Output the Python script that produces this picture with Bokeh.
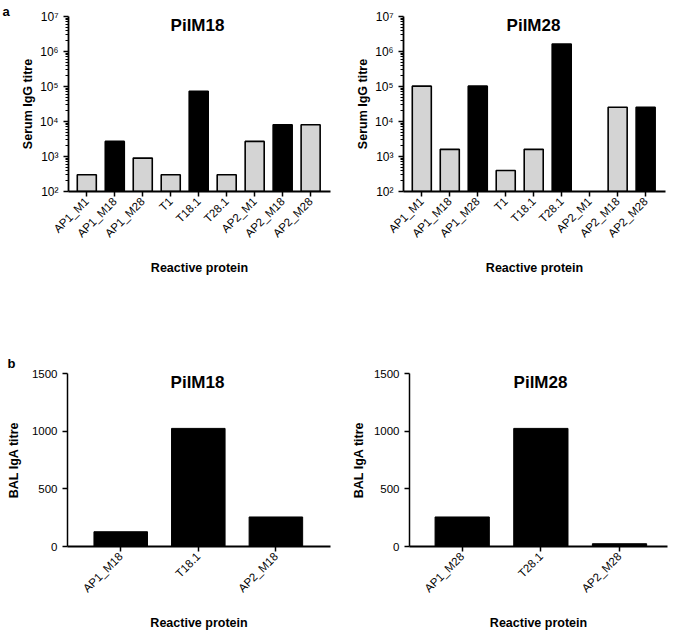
import math
from bokeh.plotting import figure
from bokeh.layouts import column, row
from bokeh.models import Range1d, FixedTicker, Label, ColumnDataSource
from bokeh.embed import file_html
from bokeh.resources import INLINE

# ---- data ----
igg_cats = ["AP1_M1", "AP1_M18", "AP1_M28", "T1", "T18.1", "T28.1", "AP2_M1", "AP2_M18", "AP2_M28"]
igg_pilm18 = [300, 2700, 900, 300, 72900, 300, 2700, 8100, 8100]
igg_pilm28 = [102400, 1600, 102400, 400, 1600, 1638400, float("nan"), 25600, 25600]
iga_cats_m18 = ["AP1_M18", "T18.1", "AP2_M18"]
iga_pilm18 = [128, 1024, 256]
iga_cats_m28 = ["AP1_M28", "T28.1", "AP2_M28"]
iga_pilm28 = [256, 1024, 24]
log_ticks = [10 ** k for k in range(2, 8)]
sup = {2: "²", 3: "³", 4: "⁴", 5: "⁵", 6: "⁶", 7: "⁷"}
lin_ticks = [0, 500, 1000, 1500]

FONT = "Liberation Sans"
GREY = "#d4d4d4"


def base_fig(w, h, bl, br, bt, bb, xr, yr, log=False):
    kw = dict(width=w, height=h, x_range=Range1d(*xr), y_range=Range1d(*yr),
              output_backend="svg", toolbar_location=None,
              min_border_left=bl, min_border_right=br, min_border_top=bt, min_border_bottom=bb)
    if log:
        kw["y_axis_type"] = "log"
    p = figure(**kw)
    p.outline_line_color = None
    p.grid.visible = False
    p.background_fill_color = "white"
    p.border_fill_color = "white"
    for ax in (p.xaxis[0], p.yaxis[0]):
        ax.axis_line_color = "black"
        ax.axis_line_width = 1.8
        ax.major_tick_line_color = "black"
        ax.major_tick_line_width = 1.5
        ax.major_tick_in = 0
        ax.major_tick_out = 5
        ax.minor_tick_in = 0
        ax.minor_tick_out = 3
        ax.minor_tick_line_color = "black"
        ax.major_label_text_font = FONT
        ax.major_label_text_font_size = "11.5px"
        ax.major_label_text_color = "black"
        ax.axis_label_text_font = FONT
        ax.axis_label_text_font_size = "12.5px"
        ax.axis_label_text_font_style = "bold"
        ax.axis_label_text_color = "black"
    p.xaxis.minor_tick_line_color = None
    p.xaxis.major_label_orientation = math.pi / 4
    p.xaxis.major_label_standoff = 3
    p.xaxis.axis_label = "Reactive protein"
    p.xaxis.axis_label_standoff = 14
    p.yaxis.major_label_standoff = 5
    p.yaxis.axis_label_standoff = 8
    return p


def igg_panel(values, bl, br, hl):
    fw = 262
    p = base_fig(bl + fw + br, 320, bl, br, 16, 129, (-0.654, 8.71), (1e2, 1e7), log=True)
    xs = list(range(len(igg_cats)))
    colors = ["black" if hl in c else GREY for c in igg_cats]
    src = ColumnDataSource(dict(x=xs, top=values, color=colors))
    p.vbar(x="x", top="top", bottom=1e2, width=0.68, source=src, fill_color="color",
           line_color="black", line_width=1.6)
    p.xaxis.ticker = FixedTicker(ticks=xs)
    p.xaxis.major_label_overrides = {i: c for i, c in enumerate(igg_cats)}
    p.yaxis.ticker = FixedTicker(ticks=log_ticks,
                                 minor_ticks=[m * 10 ** k for k in range(2, 7) for m in range(2, 10)])
    p.yaxis.major_label_overrides = {10 ** k: "10" + sup[k] for k in range(2, 8)}
    p.yaxis.major_label_text_font_size = "12px"
    p.yaxis.axis_label = "Serum IgG titre"
    p.yaxis.axis_label_standoff = 2
    return p


def iga_panel(cats, values, bl, fw, br, xr, lab_standoff):
    p = base_fig(bl + fw + br, 312, bl, br, 53, 84, xr, (0, 1500))
    xs = list(range(len(cats)))
    src = ColumnDataSource(dict(x=xs, top=values))
    p.vbar(x="x", top="top", bottom=0, width=0.69, source=src, fill_color="black",
           line_color="black", line_width=1)
    p.xaxis.ticker = FixedTicker(ticks=xs)
    p.xaxis.major_label_overrides = {i: c for i, c in enumerate(cats)}
    p.yaxis.ticker = FixedTicker(ticks=lin_ticks)
    p.yaxis.axis_label = "BAL IgA titre"
    p.yaxis.axis_label_standoff = lab_standoff
    p.yaxis.axis_line_width = 1.5
    return p


p1 = igg_panel(igg_pilm18, 68, 13, "18")
p2 = igg_panel(igg_pilm28, 60, 10, "28")
p3 = iga_panel(iga_cats_m18, iga_pilm18, 67, 263, 13, (-0.686, 2.704), 8)
p4 = iga_panel(iga_cats_m28, iga_pilm28, 66, 258, 8, (-0.670, 2.61), 5)

# transparent overlay (pulled up over the four panels) carrying the free texts
ov = figure(width=675, height=632, x_range=Range1d(0, 675), y_range=Range1d(632, 0),
            output_backend="svg", toolbar_location=None, title=None,
            x_axis_location=None, y_axis_location=None,
            min_border=0, min_border_left=0, min_border_right=0, min_border_top=0, min_border_bottom=0)
ov.grid.visible = False
ov.outline_line_color = None
ov.background_fill_alpha = 0
ov.border_fill_alpha = 0
ov.stylesheets = [":host { margin-top: -632px !important; position: relative; z-index: 5; }"]

texts = [("a", 2, 10.5, "13px", "left"), ("b", 7, 362.5, "13px", "left"),
         ("PilM18", 197, 25, "17px", "center"), ("PilM28", 533, 25, "17px", "center"),
         ("PilM18", 197, 381.5, "17px", "center"), ("PilM28", 540, 381.5, "17px", "center")]
for t, x, y, fs, al in texts:
    ov.add_layout(Label(x=x, y=y, text=t, text_align=al, text_baseline="alphabetic",
                        text_font=FONT, text_font_size=fs, text_font_style="bold",
                        text_color="black"))

layout = column(row(p1, p2), row(p3, p4), ov)
open("out.html", "w").write(file_html(layout, INLINE))
